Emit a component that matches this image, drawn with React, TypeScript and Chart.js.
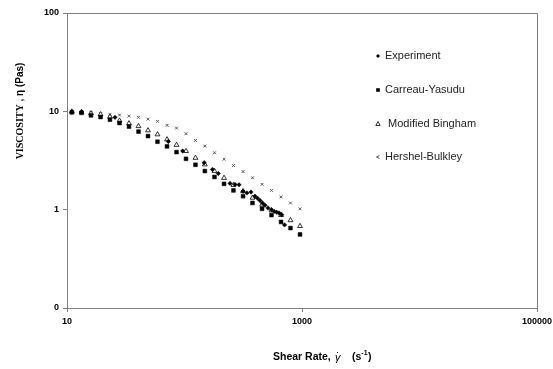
import React, { useEffect, useRef } from 'react';
import { Chart, registerables } from 'chart.js';

Chart.register(...registerables);

// ---- data ----
const shearRateModel = [11, 13.3, 16, 19.3, 23.2, 28, 33.7, 40.6, 48.9, 58.9, 71, 85.5, 103, 124, 149, 180, 217, 261, 315, 379, 457, 550, 663, 798, 962];
const carreauYasudu = [9.77, 9.65, 9.1, 8.75, 8.23, 7.6, 7.0, 6.22, 5.6, 4.91, 4.4, 3.85, 3.29, 2.86, 2.47, 2.15, 1.83, 1.57, 1.37, 1.17, 1.02, 0.88, 0.75, 0.65, 0.56];
const modifiedBingham = [9.93, 9.84, 9.54, 9.32, 8.79, 8.04, 7.54, 7.06, 6.4, 5.82, 5.18, 4.55, 3.94, 3.36, 2.88, 2.47, 2.1, 1.78, 1.54, 1.32, 1.12, 0.98, 0.88, 0.78, 0.68];
const hershelBulkley = [9.88, 9.81, 9.65, 9.47, 9.32, 9.17, 8.93, 8.69, 8.33, 7.91, 7.2, 6.76, 5.92, 5.06, 4.43, 3.79, 3.26, 2.81, 2.44, 2.11, 1.81, 1.57, 1.35, 1.17, 1.02];

const shearRateExp = [11, 13.3, 25.6, 72.8, 96.5, 147, 173, 194, 244, 269, 291, 315, 340, 368, 398, 418, 439, 461, 484, 514, 550, 581, 609, 637, 672, 710];
const viscosityExp = [9.84, 9.84, 8.69, 4.94, 3.95, 3.0, 2.56, 2.33, 1.85, 1.8, 1.79, 1.54, 1.48, 1.51, 1.37, 1.31, 1.24, 1.17, 1.11, 1.04, 1.0, 0.96, 0.94, 0.925, 0.89, 0.7];

const seriesNames = ['Experiment', 'Carreau-Yasudu', 'Modified Bingham', 'Hershel-Bulkley'];
const xTickValues = [10, 1000, 100000];
const xTickLabels = ['10', '1000', '100000'];
const yTickValues = [0.1, 1, 10, 100];
const yTickLabels = ['0', '1', '10', '100'];

const toPoints = (xs: number[], ys: number[]) => xs.map((x, i) => ({ x, y: ys[i] }));

const AXIS_COLOR = '#808080';

function drawMarker(ctx: CanvasRenderingContext2D, kind: number, x: number, y: number) {
  ctx.save();
  if (kind === 0) {
    const r = 2;
    ctx.fillStyle = '#000';
    ctx.beginPath();
    ctx.moveTo(x, y - r);
    ctx.lineTo(x + r, y);
    ctx.lineTo(x, y + r);
    ctx.lineTo(x - r, y);
    ctx.closePath();
    ctx.fill();
  } else if (kind === 1) {
    ctx.fillStyle = '#000';
    ctx.fillRect(x - 1.8, y - 1.8, 3.6, 3.6);
  } else if (kind === 2) {
    ctx.strokeStyle = '#000';
    ctx.lineWidth = 0.8;
    ctx.fillStyle = '#fff';
    ctx.beginPath();
    ctx.moveTo(x, y - 2.5);
    ctx.lineTo(x + 2.2, y + 1.5);
    ctx.lineTo(x - 2.2, y + 1.5);
    ctx.closePath();
    ctx.fill();
    ctx.stroke();
  } else {
    ctx.strokeStyle = '#555';
    ctx.lineWidth = 1;
    ctx.beginPath();
    ctx.moveTo(x + 1.5, y - 1.5);
    ctx.lineTo(x - 1.5, y);
    ctx.lineTo(x + 1.5, y + 1.5);
    ctx.stroke();
  }
  ctx.restore();
}

const decorPlugin = {
  id: 'decor',
  afterDraw(chart: any) {
    const { ctx, chartArea } = chart;
    const { left, top, right, bottom } = chartArea;
    ctx.save();
    // frame top & right
    ctx.strokeStyle = AXIS_COLOR;
    ctx.lineWidth = 1;
    ctx.beginPath();
    ctx.moveTo(Math.round(left) + 0.5, Math.round(top) + 0.5);
    ctx.lineTo(Math.round(right) + 0.5, Math.round(top) + 0.5);
    ctx.lineTo(Math.round(right) + 0.5, Math.round(bottom) + 0.5);
    ctx.stroke();

    // legend
    const legendYs = [56, 90, 124, 157];
    ctx.font = '11px "Liberation Sans", Arial, sans-serif';
    ctx.fillStyle = '#222';
    ctx.textBaseline = 'middle';
    ctx.textAlign = 'left';
    seriesNames.forEach((name, i) => {
      drawMarker(ctx, i, 378, legendYs[i]);
      ctx.fillStyle = '#222';
      ctx.fillText((i === 2 ? ' ' : '') + name, 385, legendYs[i]);
    });

    // y axis title (rotated)
    ctx.save();
    ctx.translate(20, 111);
    ctx.rotate(-Math.PI / 2);
    const p1 = 'VISCOSITY';
    const p2 = ' , \u03B7 (Pas)';
    const f1 = 'bold 10px "Liberation Serif", "Times New Roman", serif';
    const f2 = 'bold 10px "Liberation Sans", Arial, sans-serif';
    ctx.font = f1;
    const w1 = ctx.measureText(p1).width;
    ctx.font = f2;
    const w2 = ctx.measureText(p2).width;
    let sx = -(w1 + w2) / 2;
    ctx.fillStyle = '#000';
    ctx.textBaseline = 'middle';
    ctx.font = f1;
    ctx.fillText(p1, sx, 0);
    ctx.font = f2;
    ctx.fillText(p2, sx + w1, 0);
    ctx.restore();

    // x axis title
    const ty = 357;
    ctx.fillStyle = '#000';
    ctx.textBaseline = 'middle';
    ctx.font = 'bold 10.5px "Liberation Sans", Arial, sans-serif';
    ctx.fillText('Shear Rate,', 273, ty);
    ctx.font = 'italic 11px "Liberation Sans", Arial, sans-serif';
    ctx.fillText('\u03B3', 335, ty + 1);
    ctx.fillRect(337, 352, 1, 1);
    ctx.font = 'bold 10.5px "Liberation Sans", Arial, sans-serif';
    ctx.fillText('(s', 352, ty);
    let cx = 352 + ctx.measureText('(s').width;
    ctx.font = 'bold 7px "Liberation Sans", Arial, sans-serif';
    ctx.fillText('-1', cx, ty - 4);
    cx += ctx.measureText('-1').width + 0.5;
    ctx.font = 'bold 10.5px "Liberation Sans", Arial, sans-serif';
    ctx.fillText(')', cx, ty);
    ctx.restore();
  },
};

export default function App() {
  const canvasRef = useRef<HTMLCanvasElement | null>(null);

  useEffect(() => {
    if (!canvasRef.current) return;
    const tickFont = { family: '"Liberation Sans", Arial, sans-serif', size: 9, weight: 'bold' as const };
    const chart = new Chart(canvasRef.current, {
      type: 'scatter',
      data: {
        datasets: [
          {
            label: seriesNames[0],
            data: toPoints(shearRateExp, viscosityExp),
            pointStyle: 'rectRot',
            radius: 2.2,
            backgroundColor: '#000',
            borderColor: '#000',
            borderWidth: 0.5,
          },
          {
            label: seriesNames[1],
            data: toPoints(shearRateModel, carreauYasudu),
            pointStyle: 'rect',
            radius: 2.7,
            backgroundColor: '#000',
            borderColor: '#000',
            borderWidth: 0.5,
          },
          {
            label: seriesNames[2],
            data: toPoints(shearRateModel, modifiedBingham),
            pointStyle: 'triangle',
            radius: 2.8,
            backgroundColor: '#fff',
            borderColor: '#000',
            borderWidth: 0.8,
          },
          {
            label: seriesNames[3],
            data: toPoints(shearRateModel, hershelBulkley),
            pointStyle: 'crossRot',
            radius: 2,
            backgroundColor: '#555',
            borderColor: '#555',
            borderWidth: 1,
          },
        ],
      },
      options: {
        responsive: false,
        animation: false,
        events: [],
        layout: { padding: { top: 13, right: 16, left: 0, bottom: 0 } },
        plugins: {
          legend: { display: false },
          tooltip: { enabled: false },
          title: { display: false },
        },
        scales: {
          x: {
            type: 'logarithmic',
            min: 10,
            max: 100000,
            afterBuildTicks: (scale: any) => {
              scale.ticks = xTickValues.map((v) => ({ value: v }));
            },
            afterFit: (scale: any) => {
              scale.height = 61;
              scale.paddingLeft = 0;
              scale.paddingRight = 0;
            },
            ticks: {
              autoSkip: false,
              maxRotation: 0,
              padding: 4,
              color: '#000',
              font: tickFont,
              callback: (value: any) => {
                const i = xTickValues.indexOf(Number(value));
                return i >= 0 ? xTickLabels[i] : '';
              },
            },
            grid: { display: true, drawOnChartArea: false, drawTicks: true, tickLength: 4, color: AXIS_COLOR },
            border: { display: true, color: AXIS_COLOR, width: 1 },
          },
          y: {
            type: 'logarithmic',
            min: 0.1,
            max: 100,
            afterBuildTicks: (scale: any) => {
              scale.ticks = yTickValues.map((v) => ({ value: v }));
            },
            afterFit: (scale: any) => {
              scale.width = 67;
            },
            ticks: {
              autoSkip: false,
              padding: 4,
              color: '#000',
              font: tickFont,
              callback: (value: any) => {
                const i = yTickValues.indexOf(Number(value));
                return i >= 0 ? yTickLabels[i] : '';
              },
            },
            grid: { display: true, drawOnChartArea: false, drawTicks: true, tickLength: 4, color: AXIS_COLOR },
            border: { display: true, color: AXIS_COLOR, width: 1 },
          },
        },
      },
      plugins: [decorPlugin],
    } as any);
    return () => chart.destroy();
  }, []);

  return (
    <div style={{ position: 'fixed', left: 0, top: 0, width: 553, height: 369, background: '#fff' }}>
      <canvas ref={canvasRef} width={553} height={369} style={{ display: 'block' }} />
    </div>
  );
}
